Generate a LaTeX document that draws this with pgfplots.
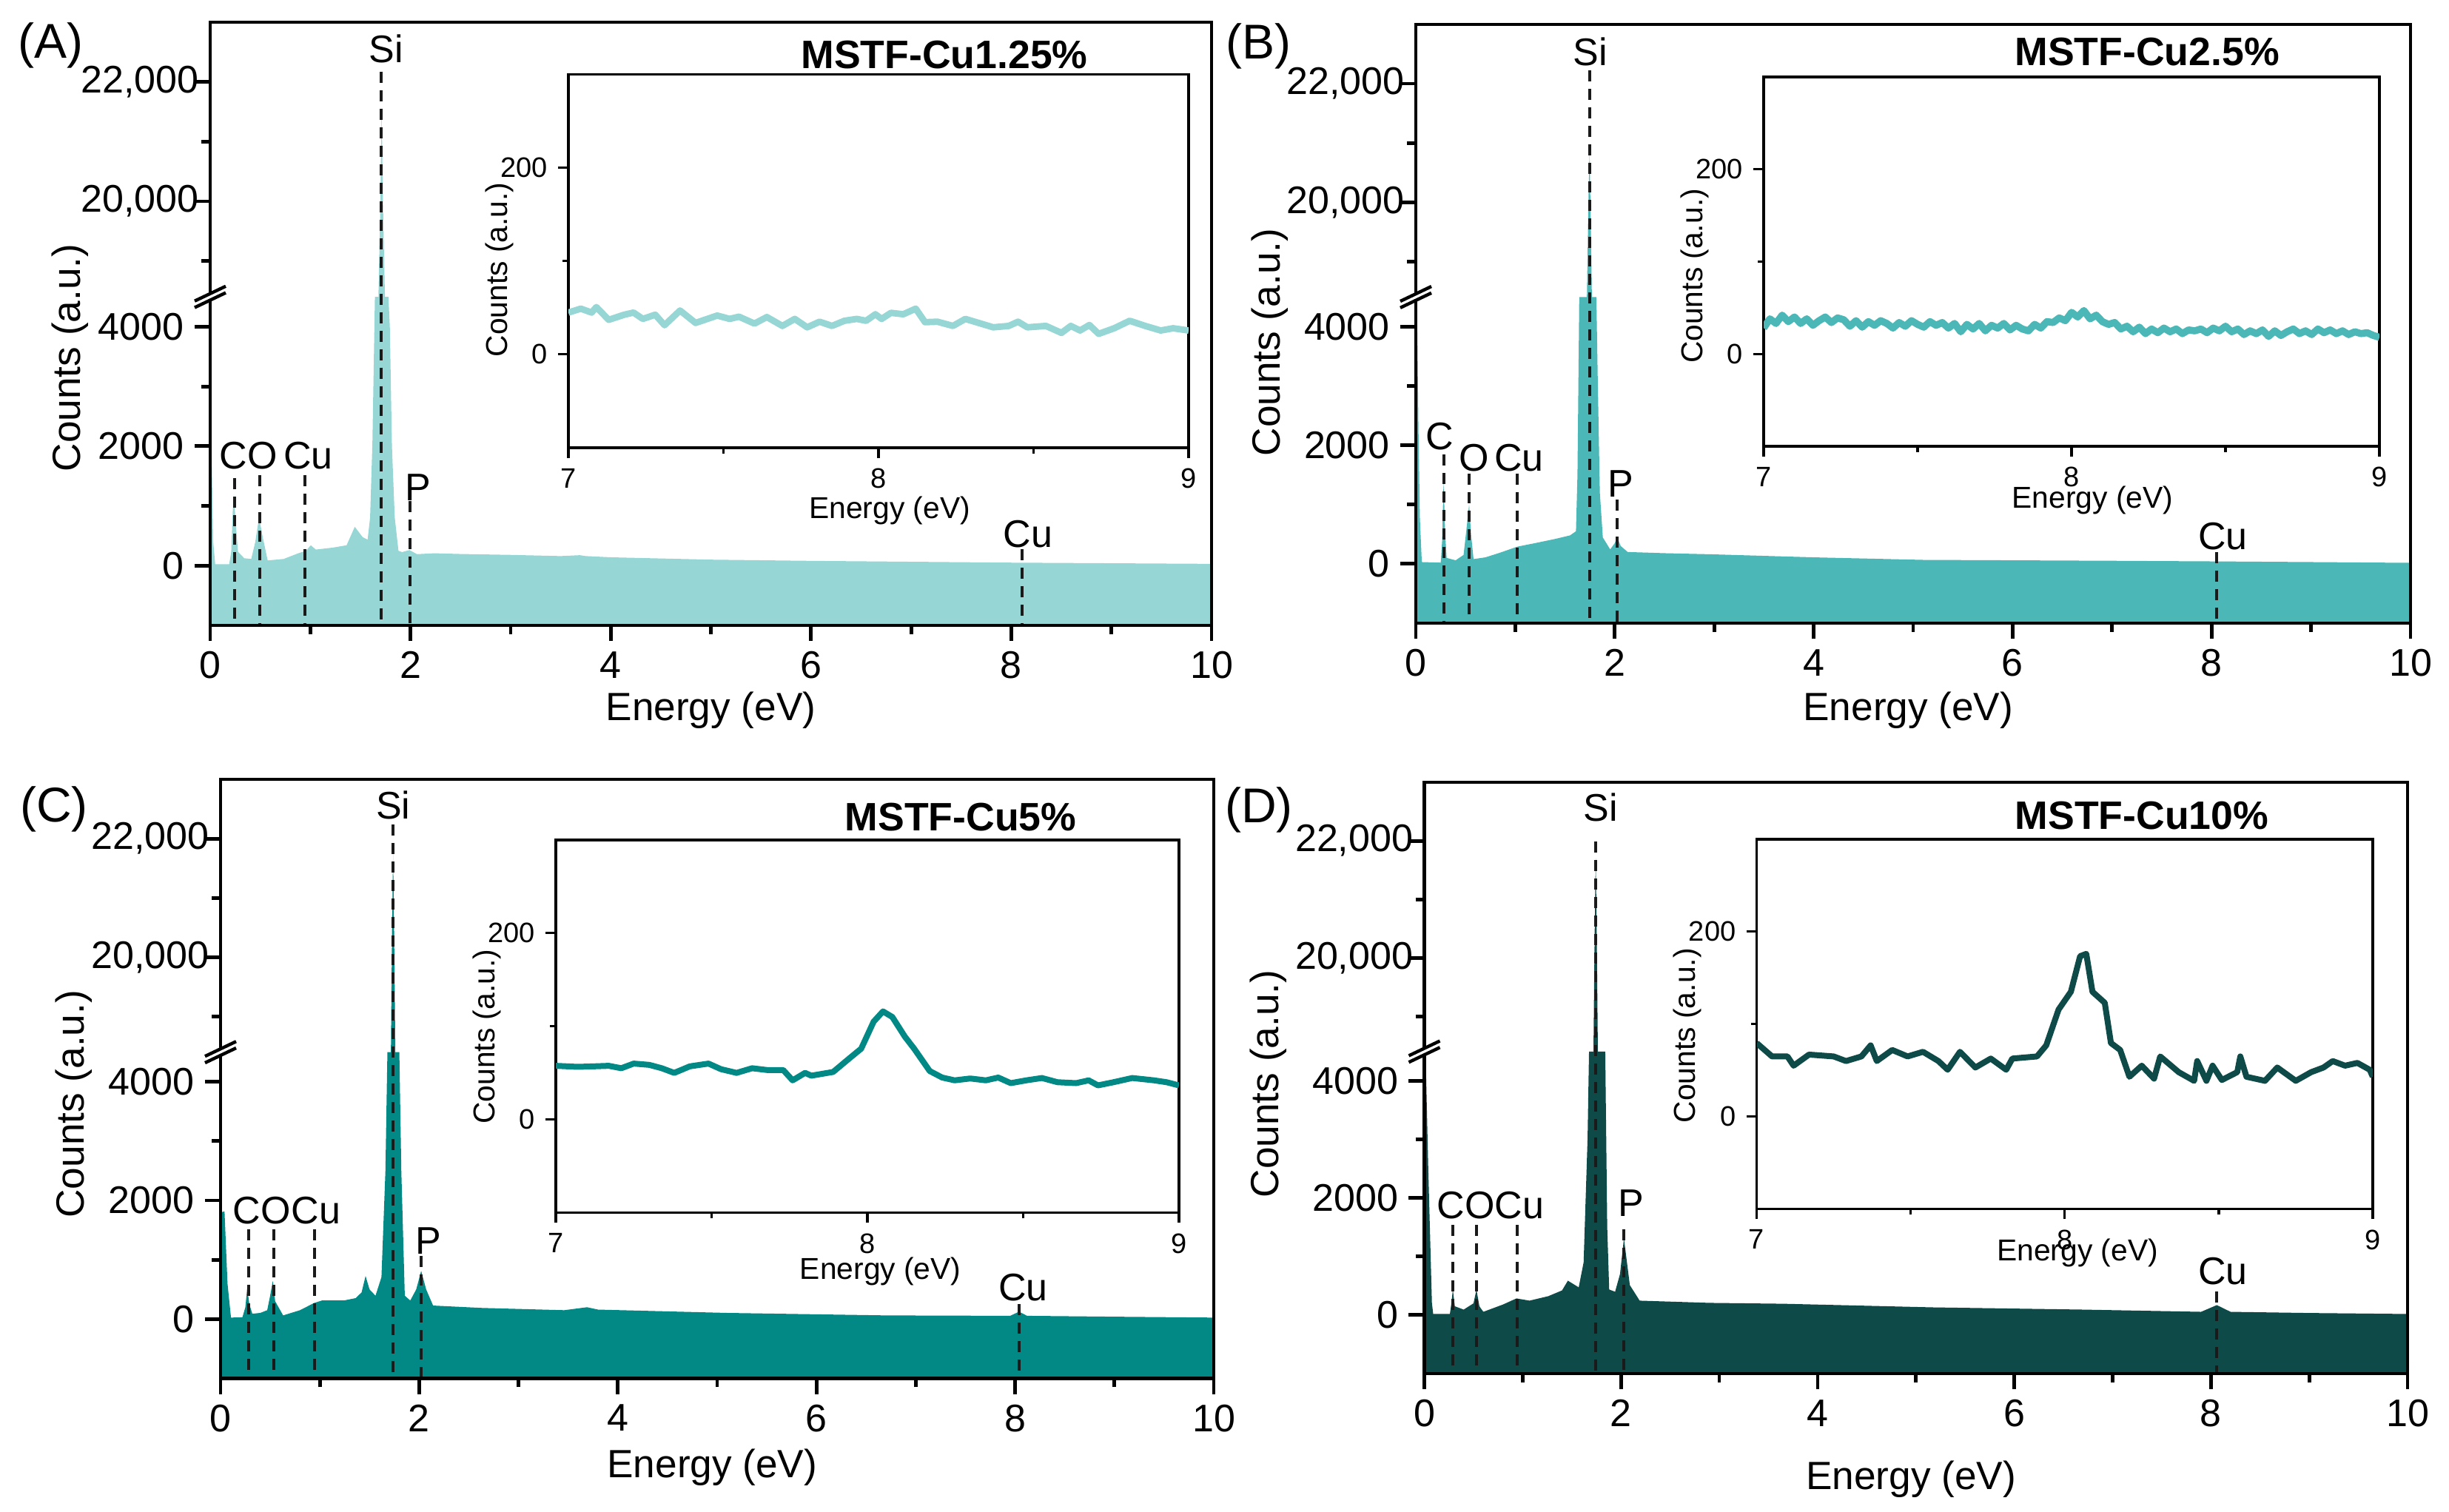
\documentclass[border=0pt]{standalone}
\usepackage{fontspec}
\setmainfont{Liberation Sans}
\usepackage{pgfplots}
\pgfplotsset{compat=1.18}
\definecolor{cA}{HTML}{96D6D5}
\definecolor{cB}{HTML}{4BB7B6}
\definecolor{cC}{HTML}{038985}
\definecolor{cD}{HTML}{0E4A48}
\definecolor{dk}{HTML}{1A1A1A}
\newcommand{\fs}[1]{\fontsize{#1}{#1}\selectfont}
\newcommand{\brktrafo}[1]{%
  \begingroup
  \pgfkeys{/pgf/fpu=true,/pgf/fpu/output format=fixed}%
  \pgfmathparse{(#1)<4500 ? (#1) : ((#1)<18400 ? 4500 : (#1)-13900)}%
  \xdef\brkresult{\pgfmathresult}%
  \endgroup
  \let\pgfmathresult\brkresult}
\tikzset{
  dl/.style={dk, line width=1pt, dash pattern=on 3.75pt off 2.5pt},
  pl/.style={font=\fs{13}, anchor=base, inner sep=0pt},
}
\pgfplotsset{
  mainax/.style={
    scale only axis, xmin=0, xmax=10, ymin=-1000, ymax=23000,
    y coord trafo/.code={\brktrafo{##1}},
    xtick={0,2,4,6,8,10}, minor xtick={1,3,5,7,9},
    ytick={0,2000,4000,20000,22000}, minor ytick={1000,3000,19000,21000},
    yticklabels={0,2000,4000,{20,000\kern-5pt},{22,000\kern-5pt}},
    tick align=outside, xtick pos=bottom, ytick pos=left,
    major tick length=5.3pt, minor tick length=3pt,
    axis line style={line width=1.2pt},
    tick style={line width=1.2pt, black},
    /pgf/number format/assume math mode=true,
    ticklabel style={font=\fs{13}},
    label style={font=\fs{13.3}},
    xlabel={Energy (eV)}, ylabel={Counts (a.u.)},
    axis on top,
  },
  inax/.style={
    scale only axis, xmin=7, xmax=9, ymin=-100, ymax=300,
    xtick={7,8,9}, minor xtick={7.5,8.5}, ytick={0,200}, minor ytick={100},
    tick align=outside, xtick pos=bottom, ytick pos=left,
    major tick length=3.5pt, minor tick length=2pt,
    axis line style={line width=0.8pt},
    tick style={line width=0.8pt, black},
    /pgf/number format/assume math mode=true,
    ticklabel style={font=\fs{9.5}},
    label style={font=\fs{10.2}},
    xlabel={Energy (eV)}, ylabel={Counts (a.u.)},
  },
}
\begin{document}
\begin{tikzpicture}
\useasboundingbox (0,0) rectangle (827.25pt,510.75pt);
% ---------------- Panel A ----------------
\begin{axis}[mainax, at={(71pt,299.5pt)}, anchor=south west, width=338.25pt, height=203.75pt,
  xlabel style={at={(axis description cs:0.5,-0.141)},anchor=center},
  ylabel style={at={(axis description cs:-0.140,0.4436)},anchor=center}]
\addplot[fill=cA, draw=none] coordinates {(0,-1000) (0,1900) (0.015,1800) (0.03,400) (0.05,25) (0.19,25) (0.21,230) (0.225,900) (0.237,1200) (0.254,725) (0.278,230) (0.34,124) (0.41,112) (0.45,394) (0.488,807) (0.525,476) (0.574,87) (0.734,112) (0.88,207) (0.956,248) (1.005,341) (1.055,269) (1.227,302) (1.362,341) (1.444,650) (1.523,476) (1.572,435) (1.597,807) (1.62,2050) (1.645,4500) (1.68,18400) (1.70,20000) (1.712,21570) (1.725,20000) (1.745,18400) (1.78,4500) (1.794,4000) (1.815,2000) (1.843,807) (1.88,248) (1.917,227) (1.99,261) (2.065,192) (2.24,207) (2.5,195) (3.0,180) (3.5,160) (3.69,175) (3.75,160) (4,140) (5,100) (6,80) (7,65) (8,50) (9,40) (10,30) (10,-1000)} -- cycle;
\draw[dl] (axis cs:0.242,1466) -- (axis cs:0.242,-1000);
\draw[dl] (axis cs:0.495,1516) -- (axis cs:0.495,-1000);
\draw[dl] (axis cs:0.946,1516) -- (axis cs:0.946,-1000);
\draw[dl] (axis cs:1.71,22174) -- (axis cs:1.71,-1000);
\draw[dl] (axis cs:1.996,1081) -- (axis cs:1.996,-1000);
\draw[dl] (axis cs:8.11,273) -- (axis cs:8.11,-1000);
\node[pl] at (axis cs:0.233,1615) {C};
\node[pl] at (axis cs:0.525,1615) {O};
\node[pl] at (axis cs:0.979,1615) {Cu};
\node[pl] at (axis cs:2.077,1093) {P};
\node[pl] at (axis cs:1.755,22323) {Si};
\node[pl] at (axis cs:8.167,311) {Cu};
\coordinate (brkA) at (axis cs:0,4500);
\end{axis}
\begin{axis}[inax, at={(192pt,359.5pt)}, anchor=south west, width=209.5pt, height=126.125pt,
  xlabel style={at={(axis description cs:0.518,-0.169)},anchor=center},
  ylabel style={at={(axis description cs:-0.111,0.477)},anchor=center}]
\addplot[cA, line width=2.2pt, line join=round] coordinates {(7.0,44.8)(7.04,49)(7.075,44.8)(7.09,50.7)(7.13,37)(7.18,42.5)(7.21,44.8)(7.24,38)(7.28,42.5)(7.31,31.3)(7.36,47)(7.41,33.7)(7.48,41.6)(7.52,38)(7.55,40.4)(7.6,33)(7.64,40)(7.69,30.5)(7.73,38)(7.77,29)(7.81,35)(7.85,30.5)(7.89,36)(7.93,38)(7.96,36)(7.99,43)(8.01,38)(8.04,44.5)(8.08,43)(8.12,49)(8.15,34.5)(8.19,35)(8.24,30.5)(8.28,38)(8.33,33)(8.37,29)(8.42,30.5)(8.45,35)(8.48,29)(8.54,30.5)(8.59,23)(8.62,30.5)(8.65,25.6)(8.68,31.5)(8.71,22)(8.76,28)(8.81,36)(8.86,30.5)(8.91,25.6)(8.95,28)(9.0,25.6)};
\end{axis}
% ---------------- Panel B ----------------
\begin{axis}[mainax, at={(478.25pt,300.25pt)}, anchor=south west, width=336pt, height=202.25pt,
  xlabel style={at={(axis description cs:0.495,-0.146)},anchor=center},
  ylabel style={at={(axis description cs:-0.1466,0.469)},anchor=center}]
\addplot[fill=cB, draw=none] coordinates {(0,-1000) (0,3970) (0.015,3900) (0.025,2500) (0.04,800) (0.06,30) (0.25,20) (0.265,400) (0.279,1400) (0.295,500) (0.31,100) (0.4,60) (0.48,150) (0.51,600) (0.536,1000) (0.555,500) (0.58,80) (0.7,110) (0.85,190) (1.02,290) (1.2,350) (1.4,420) (1.55,480) (1.61,550) (1.625,1500) (1.643,4500) (1.72,18400) (1.735,20000) (1.747,20860) (1.755,20000) (1.77,18400) (1.815,4500) (1.83,3000) (1.85,1200) (1.88,445) (1.954,243) (2.0,350) (2.025,445) (2.06,300) (2.13,200) (2.5,180) (3,160) (4,110) (5.1,67) (6,60) (7,52) (8,42) (9,30) (10,17) (10,-1000)} -- cycle;
\draw[dl] (axis cs:0.279,1841) -- (axis cs:0.279,-1000);
\draw[dl] (axis cs:0.536,1527) -- (axis cs:0.536,-1000);
\draw[dl] (axis cs:1.02,1527) -- (axis cs:1.02,-1000);
\draw[dl] (axis cs:1.747,22222) -- (axis cs:1.747,-1000);
\draw[dl] (axis cs:2.025,1087) -- (axis cs:2.025,-1000);
\draw[dl] (axis cs:8.05,200) -- (axis cs:8.05,-1000);
\node[pl] at (axis cs:0.242,1930) {C};
\node[pl] at (axis cs:0.584,1565) {O};
\node[pl] at (axis cs:1.038,1565) {Cu};
\node[pl] at (axis cs:2.057,1125) {P};
\node[pl] at (axis cs:1.756,22311) {Si};
\node[pl] at (axis cs:8.114,244) {Cu};
\coordinate (brkB) at (axis cs:0,4500);
\end{axis}
\begin{axis}[inax, at={(595.75pt,360pt)}, anchor=south west, width=208pt, height=124.75pt,
  xlabel style={at={(axis description cs:0.534,-0.147)},anchor=center},
  ylabel style={at={(axis description cs:-0.112,0.461)},anchor=center}]
\addplot[cB, line width=2.4pt, line join=round] coordinates {(7.00,28)(7.02,38)(7.04,33)(7.06,42)(7.08,35)(7.10,40)(7.12,33)(7.14,38)(7.16,31)(7.18,36)(7.20,40)(7.22,34)(7.24,39)(7.26,37)(7.28,30)(7.30,36)(7.32,29)(7.34,35)(7.36,31)(7.38,36)(7.40,33)(7.42,28)(7.44,34)(7.46,30)(7.48,36)(7.50,32)(7.52,29)(7.54,35)(7.56,31)(7.58,34)(7.60,28)(7.62,33)(7.64,24)(7.66,32)(7.68,27)(7.70,33)(7.72,25)(7.74,31)(7.76,28)(7.78,33)(7.80,26)(7.82,31)(7.84,27)(7.86,25)(7.88,32)(7.90,28)(7.92,35)(7.94,34)(7.96,39)(7.98,36)(8.00,45)(8.02,40)(8.04,47)(8.06,38)(8.08,42)(8.10,35)(8.12,32)(8.14,34)(8.16,27)(8.18,30)(8.20,24)(8.22,29)(8.24,22)(8.26,27)(8.28,23)(8.30,28)(8.32,24)(8.34,27)(8.36,22)(8.38,26)(8.40,25)(8.42,27)(8.44,23)(8.46,28)(8.48,25)(8.50,30)(8.52,24)(8.54,27)(8.56,21)(8.58,25)(8.60,22)(8.62,26)(8.64,19)(8.66,25)(8.68,20)(8.70,24)(8.72,27)(8.74,22)(8.76,25)(8.78,21)(8.80,27)(8.82,23)(8.84,26)(8.86,22)(8.88,25)(8.90,21)(8.92,24)(8.94,22)(8.96,23)(8.98,20)(9.00,18)};
\end{axis}
% ---------------- Panel C ----------------
\begin{axis}[mainax, at={(74.5pt,45.125pt)}, anchor=south west, width=335.5pt, height=202.375pt,
  xlabel style={at={(axis description cs:0.495,-0.148)},anchor=center},
  ylabel style={at={(axis description cs:-0.1475,0.458)},anchor=center}]
\addplot[fill=cC, draw=none] coordinates {(0,-1000) (0,1800) (0.04,1815) (0.07,600) (0.105,25) (0.22,30) (0.25,200) (0.268,520) (0.29,250) (0.32,90) (0.4,104) (0.47,150) (0.5,400) (0.526,645) (0.55,300) (0.63,62) (0.8,150) (0.94,270) (1.02,313) (1.24,313) (1.36,353) (1.42,450) (1.46,727) (1.5,500) (1.56,394) (1.62,707) (1.66,2500) (1.68,4500) (1.715,18400) (1.727,20500) (1.737,21735) (1.747,20500) (1.76,18400) (1.80,4500) (1.82,2500) (1.855,394) (1.91,313) (1.97,500) (2.02,813) (2.07,500) (2.14,228) (2.63,188) (3.46,150) (3.69,200) (3.8,160) (5.1,104) (6.7,62) (7.95,55) (8.04,125) (8.12,55) (9,40) (10,25) (10,-1000)} -- cycle;
\draw[dl] (axis cs:0.283,1514) -- (axis cs:0.283,-1000);
\draw[dl] (axis cs:0.54,1514) -- (axis cs:0.54,-1000);
\draw[dl] (axis cs:0.946,1514) -- (axis cs:0.946,-1000);
\draw[dl] (axis cs:1.737,22240) -- (axis cs:1.737,-1000);
\draw[dl] (axis cs:2.02,1064) -- (axis cs:2.02,-1000);
\draw[dl] (axis cs:8.04,250) -- (axis cs:8.04,-1000);
\node[pl] at (axis cs:0.26,1602) {C};
\node[pl] at (axis cs:0.557,1602) {O};
\node[pl] at (axis cs:0.961,1602) {Cu};
\node[pl] at (axis cs:2.092,1101) {P};
\node[pl] at (axis cs:1.738,22328) {Si};
\node[pl] at (axis cs:8.081,313) {Cu};
\coordinate (brkC) at (axis cs:0,4500);
\end{axis}
\begin{axis}[inax, at={(187.75pt,101.125pt)}, anchor=south west, width=210.5pt, height=125.875pt,
  xlabel style={at={(axis description cs:0.521,-0.158)},anchor=center},
  ylabel style={at={(axis description cs:-0.11,0.472)},anchor=center}]
\addplot[cC, line width=2pt, line join=round] coordinates {(7.0,57.6)(7.07,56.5)(7.12,57)(7.17,57.6)(7.21,55)(7.25,60)(7.3,58.6)(7.34,55)(7.38,50)(7.43,57)(7.49,60)(7.53,54)(7.58,50)(7.63,55)(7.68,53)(7.73,53)(7.76,42)(7.8,50)(7.82,47)(7.89,51)(7.94,65)(7.98,76)(8.02,105)(8.05,116)(8.08,110)(8.12,89)(8.15,76)(8.2,52)(8.24,45)(8.28,42)(8.33,44)(8.38,42)(8.42,45)(8.46,39)(8.51,42)(8.56,44.5)(8.61,40)(8.67,39)(8.71,42)(8.74,36.6)(8.79,40)(8.85,44.5)(8.92,42)(8.96,40)(9.0,36.6)};
\end{axis}
% ---------------- Panel D ----------------
\begin{axis}[mainax, at={(481.125pt,46.75pt)}, anchor=south west, width=332.125pt, height=199.75pt,
  xlabel style={at={(axis description cs:0.495,-0.179)},anchor=center},
  ylabel style={at={(axis description cs:-0.159,0.49)},anchor=center}]
\addplot[fill=cD, draw=none] coordinates {(0,-1000) (0,4300) (0.015,4300) (0.04,2500) (0.077,208) (0.09,18) (0.26,20) (0.275,200) (0.29,436) (0.31,150) (0.4,93) (0.5,200) (0.53,436) (0.56,150) (0.6,55) (0.8,180) (0.937,284) (1.07,246) (1.26,322) (1.4,420) (1.46,587) (1.57,473) (1.62,900) (1.66,3000) (1.675,4500) (1.72,18400) (1.733,20500) (1.743,21695) (1.753,20500) (1.765,18400) (1.84,4500) (1.86,1500) (1.88,436) (1.94,398) (1.99,700) (2.03,1309) (2.09,511) (2.19,246) (2.9,208) (3.65,193) (5.18,131) (6.7,93) (7.9,55) (8.06,170) (8.2,55) (9,35) (10,18) (10,-1000)} -- cycle;
\draw[dl] (axis cs:0.29,1540) -- (axis cs:0.29,-1000);
\draw[dl] (axis cs:0.53,1540) -- (axis cs:0.53,-1000);
\draw[dl] (axis cs:0.945,1540) -- (axis cs:0.945,-1000);
\draw[dl] (axis cs:1.743,21990) -- (axis cs:1.743,-1000);
\draw[dl] (axis cs:2.03,1465) -- (axis cs:2.03,-1000);
\draw[dl] (axis cs:8.06,398) -- (axis cs:8.06,-1000);
\node[pl] at (axis cs:0.272,1654) {C};
\node[pl] at (axis cs:0.565,1654) {O};
\node[pl] at (axis cs:0.966,1654) {Cu};
\node[pl] at (axis cs:2.104,1692) {P};
\node[pl] at (axis cs:1.795,22330) {Si};
\node[pl] at (axis cs:8.122,518) {Cu};
\coordinate (brkD) at (axis cs:0,4500);
\end{axis}
\begin{axis}[inax, at={(593.375pt,102.375pt)}, anchor=south west, width=208.125pt, height=124.875pt,
  xlabel style={at={(axis description cs:0.521,-0.12)},anchor=center},
  ylabel style={at={(axis description cs:-0.112,0.469)},anchor=center}]
\addplot[cD, line width=2pt, line join=round] coordinates {(7.0,79.5)(7.05,65)(7.1,65)(7.12,55)(7.17,67)(7.25,65)(7.29,60)(7.34,65)(7.37,77)(7.39,60)(7.44,72)(7.49,65)(7.54,70)(7.59,60)(7.62,50.6)(7.66,70)(7.71,53)(7.76,62.7)(7.81,50.6)(7.83,62.7)(7.91,65)(7.94,77)(7.98,115.7)(8.02,135)(8.05,173.5)(8.07,176)(8.09,135)(8.13,123)(8.15,79.5)(8.18,72)(8.21,43)(8.25,55)(8.29,41)(8.31,65)(8.37,48)(8.42,38.6)(8.43,60)(8.46,38.6)(8.48,55)(8.51,39.5)(8.56,48)(8.57,65)(8.59,43)(8.65,38.6)(8.69,53)(8.75,38.6)(8.8,48)(8.84,53)(8.87,60)(8.91,55)(8.95,58)(8.99,50.6)(9.0,43)};
\end{axis}
% ---------------- break marks ----------------
\foreach \b in {brkA,brkB,brkC,brkD}{
  \fill[white] ([xshift=-5.25pt,yshift=-3.6pt]\b) -- ++(10.5pt,5pt) -- ++(0,2.2pt) -- ++(-10.5pt,-5pt) -- cycle;
  \draw[line width=1.1pt] ([xshift=-5.25pt,yshift=-3.6pt]\b) -- ++(10.5pt,5pt);
  \draw[line width=1.1pt] ([xshift=-5.25pt,yshift=-1.4pt]\b) -- ++(10.5pt,5pt);
}
% ---------------- titles and panel labels ----------------
\node[font=\fs{13.4}\bfseries, anchor=base, inner sep=0pt] at (319pt,487.6pt) {MSTF-Cu1.25\%};
\node[font=\fs{13.4}\bfseries, anchor=base, inner sep=0pt] at (725.25pt,488.5pt) {MSTF-Cu2.5\%};
\node[font=\fs{13.4}\bfseries, anchor=base, inner sep=0pt] at (324.5pt,230pt) {MSTF-Cu5\%};
\node[font=\fs{13.4}\bfseries, anchor=base, inner sep=0pt] at (723.5pt,230.5pt) {MSTF-Cu10\%};
\node[font=\fs{16.5}, inner sep=0pt] at (17.1pt,495.4pt) {(A)};
\node[font=\fs{16.5}, inner sep=0pt] at (425pt,495.25pt) {(B)};
\node[font=\fs{16.5}, inner sep=0pt] at (18.25pt,237.5pt) {(C)};
\node[font=\fs{16.5}, inner sep=0pt] at (425.25pt,237.25pt) {(D)};
\end{tikzpicture}
\end{document}
